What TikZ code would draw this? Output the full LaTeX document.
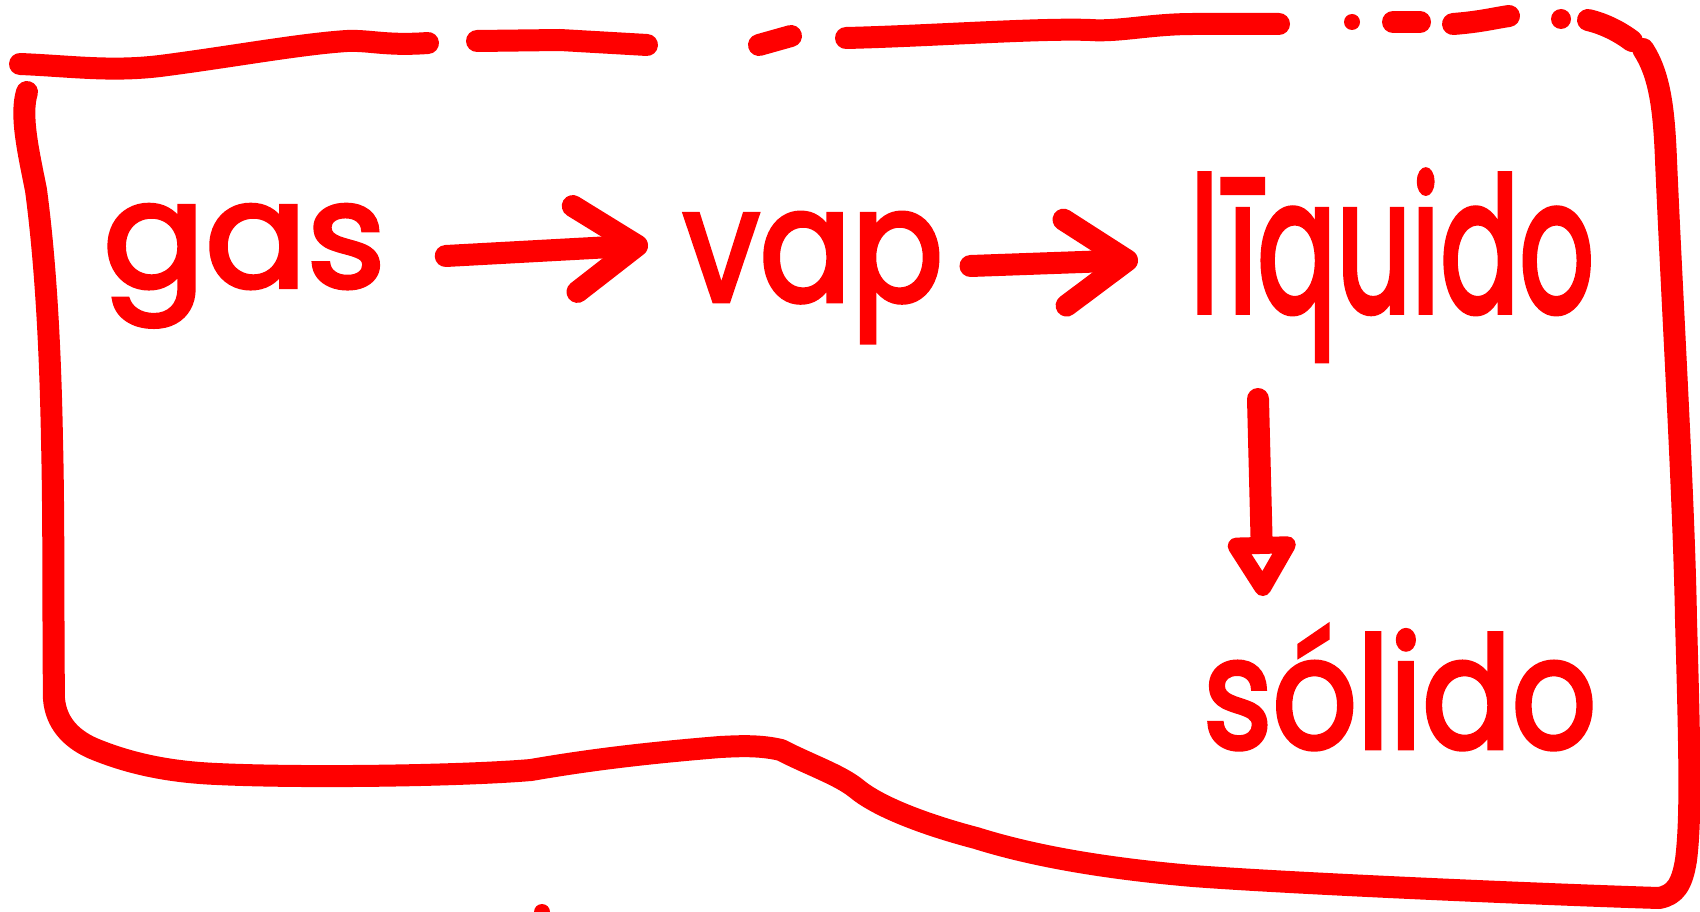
\documentclass[tikz,border=0pt]{standalone}
\usepackage{fontspec}
\usepackage{graphicx}
\setmainfont{Poppins}[FakeBold=3]
\usetikzlibrary{arrows.meta}
\definecolor{ink}{RGB}{255,0,0}
\tikzset{
  pen/.style={draw=ink, line width=22pt, line cap=round, line join=round},
  word/.style={anchor=base west, inner sep=0pt, text=ink},
  barb/.style={pen, -{Straight Barb[length=62pt, width=86pt, line width=22pt, round]}},
  tri/.style={pen, -{Triangle[open, length=68pt, width=76pt, line width=22pt, round]}},
}
\begin{document}
\begin{tikzpicture}[x=1pt, y=-1pt]
\useasboundingbox (0,0) rectangle (1700,912);
% words
\node[word] (gas) at (103,287) {\resizebox{282pt}{82pt}{gas}};
\node[word] (vap) at (683,301) {\resizebox{260pt}{88pt}{vap}};
\node[word] (liq) at (1190,312) {\resizebox{404pt}{142pt}{l\kern0.08emīquido}};
\node[word] (sol) at (1203,748) {\resizebox{393pt}{122pt}{sólido}};
% connectors
\draw[barb] ([shift={(60,-31)}]gas.base east) -- ([shift={(-35,-56)}]vap.base west);
\draw[barb] ([shift={(27,-35)}]vap.base east) -- ([shift={(-52,-52)}]liq.base west);
\draw[tri] ([shift={(68,87)}]liq.base west) -- ([shift={(60,-152)}]sol.base west);
% frame: top, dashed freehand
\draw[pen] (20,64) .. controls (70,66) and (110,72) .. (160,66)
  .. controls (230,57) and (300,44) .. (347,41)
  .. controls (370,40) and (385,46) .. (428,43);
\draw[pen] (477,41) -- (560,40) -- (647,45);
\draw[pen] (759,45) -- (791,36);
\draw[pen] (846,38) .. controls (930,36) and (1040,28) .. (1090,30)
  .. controls (1120,32) and (1150,24) .. (1193,24) -- (1279,24);
\fill[ink] (1352,22) circle (8);
\draw[pen] (1393,22) -- (1420,22);
\draw[pen] (1453,24) .. controls (1480,22) and (1495,18) .. (1509,16);
\fill[ink] (1561,19) circle (10);
\draw[pen] (1588,20) .. controls (1605,24) and (1620,32) .. (1632,41);
% right side, bottom and left side
\draw[pen] (1643,49) .. controls (1660,75) and (1664,110) .. (1666,160)
  .. controls (1672,300) and (1684,500) .. (1686,620)
  .. controls (1690,760) and (1691,820) .. (1686,860)
  .. controls (1682,885) and (1675,895) .. (1659,898)
  .. controls (1560,895) and (1300,884) .. (1193,876)
  .. controls (1100,868) and (1030,855) .. (976,838)
  .. controls (930,826) and (880,808) .. (857,789)
  .. controls (840,775) and (810,765) .. (781,750)
  .. controls (760,745) and (740,746) .. (720,747)
  .. controls (660,752) and (600,758) .. (531,770)
  .. controls (460,776) and (300,778) .. (217,774)
  .. controls (170,772) and (130,764) .. (92,748)
  .. controls (70,738) and (56,722) .. (54,699)
  .. controls (53,620) and (54,520) .. (52,440)
  .. controls (50,330) and (44,250) .. (36,190)
  .. controls (28,150) and (20,115) .. (27,92);
\fill[ink] (542,912) circle (8);
\end{tikzpicture}
\end{document}
